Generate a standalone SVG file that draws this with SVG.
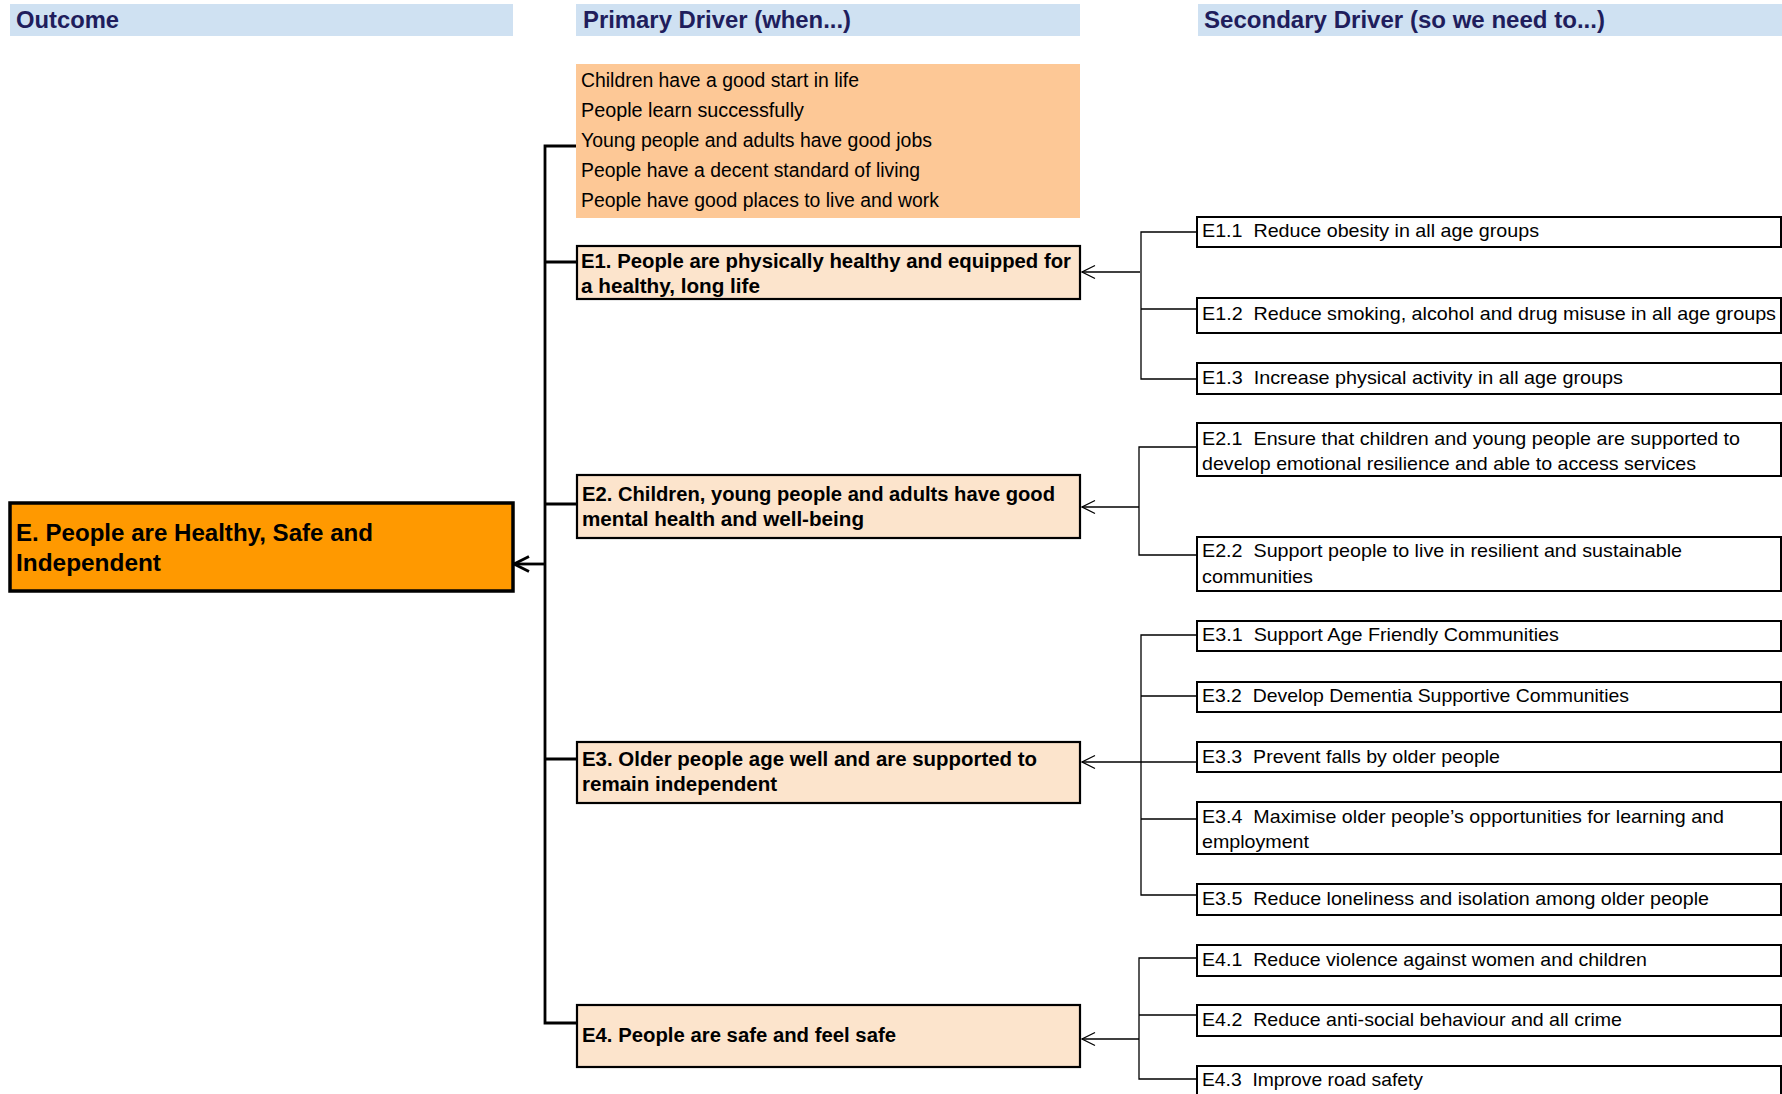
<svg xmlns="http://www.w3.org/2000/svg" width="1782" height="1094" viewBox="0 0 1782 1094">
<style>
text{font-family:"Liberation Sans",Arial,sans-serif;fill:#000}
.hdr{fill:#CFE1F2}
.htx{font-size:24px;font-weight:bold;fill:#201D5C}
.lst{font-size:20px}
.pb{fill:#FCE4CC;stroke:#000;stroke-width:2.2}
.pt{font-size:20px;font-weight:bold}
.sb{fill:#fff;stroke:#000;stroke-width:2}
.st{font-size:19px}
.thick{fill:none;stroke:#000;stroke-width:2.8}
.thin{fill:none;stroke:#000;stroke-width:1.3}
</style>
<defs>
<marker id="a1" markerUnits="userSpaceOnUse" markerWidth="30" markerHeight="30" viewBox="-20 -15 30 30" refX="0" refY="0" orient="auto" overflow="visible"><path d="M-13,-6.5 L0,0 L-13,6.5" fill="none" stroke="#000" stroke-width="1.3"/></marker>
<marker id="a2" markerUnits="userSpaceOnUse" markerWidth="30" markerHeight="30" viewBox="-20 -15 30 30" refX="0" refY="0" orient="auto" overflow="visible"><path d="M-15,-7.5 L0,0 L-15,7.5" fill="none" stroke="#000" stroke-width="2.8"/></marker>
</defs>
<rect width="1782" height="1094" fill="#fff"/>
<g id="headers">
<rect class="hdr" x="10" y="4" width="503" height="32"/>
<text class="htx" x="16" y="28" textLength="103" lengthAdjust="spacingAndGlyphs">Outcome</text>
<rect class="hdr" x="576" y="4" width="504" height="32"/>
<text class="htx" x="583" y="28" textLength="268" lengthAdjust="spacingAndGlyphs">Primary Driver (when...)</text>
<rect class="hdr" x="1198" y="4" width="584" height="32"/>
<text class="htx" x="1204" y="28" textLength="401" lengthAdjust="spacingAndGlyphs">Secondary Driver (so we need to...)</text>
</g>
<g id="connectors">
<path class="thick" d="M576,146 H545 V1023 H577"/>
<path class="thick" d="M545,262 H577 M545,504 H577 M545,759 H577"/>
<path class="thick" d="M545,564 H514" marker-end="url(#a2)"/>
<path class="thin" d="M1140,272 H1082" marker-end="url(#a1)"/>
<path class="thin" d="M1197,232 H1141 V379 H1197 M1141,309 H1197"/>
<path class="thin" d="M1139,507 H1082" marker-end="url(#a1)"/>
<path class="thin" d="M1197,447 H1139 V555 H1197"/>
<path class="thin" d="M1197,762 H1082" marker-end="url(#a1)"/>
<path class="thin" d="M1197,635 H1141 V895 H1197 M1141,696 H1197 M1141,819 H1197"/>
<path class="thin" d="M1139,1039 H1082" marker-end="url(#a1)"/>
<path class="thin" d="M1197,958 H1139 V1079 H1197 M1139,1015 H1197"/>
</g>
<g id="outcome-E">
<rect x="10" y="503" width="503" height="88" fill="#FF9900" stroke="#000" stroke-width="3.5"/>
<text x="16" y="541" font-size="24" font-weight="bold" textLength="357" lengthAdjust="spacingAndGlyphs">E. People are Healthy, Safe and</text>
<text x="16" y="571" font-size="24" font-weight="bold" textLength="145" lengthAdjust="spacingAndGlyphs">Independent</text>
</g>
<g id="primary-list">
<rect x="576" y="64" width="504" height="154" fill="#FDC896"/>
<text class="lst" x="581" y="87" textLength="278" lengthAdjust="spacingAndGlyphs">Children have a good start in life</text>
<text class="lst" x="581" y="117" textLength="223" lengthAdjust="spacingAndGlyphs">People learn successfully</text>
<text class="lst" x="581" y="147" textLength="351" lengthAdjust="spacingAndGlyphs">Young people and adults have good jobs</text>
<text class="lst" x="581" y="177" textLength="339" lengthAdjust="spacingAndGlyphs">People have a decent standard of living</text>
<text class="lst" x="581" y="207" textLength="358" lengthAdjust="spacingAndGlyphs">People have good places to live and work</text>
</g>
<g id="E1">
<rect class="pb" x="577" y="246" width="503" height="53"/>
<text class="pt" x="581" y="268" textLength="490" lengthAdjust="spacingAndGlyphs">E1. People are physically healthy and equipped for</text>
<text class="pt" x="581" y="293" textLength="179" lengthAdjust="spacingAndGlyphs">a healthy, long life</text>
</g>
<g id="E2">
<rect class="pb" x="577" y="475" width="503" height="63"/>
<text class="pt" x="582" y="501" textLength="473" lengthAdjust="spacingAndGlyphs">E2. Children, young people and adults have good</text>
<text class="pt" x="582" y="526" textLength="282" lengthAdjust="spacingAndGlyphs">mental health and well-being</text>
</g>
<g id="E3">
<rect class="pb" x="577" y="742" width="503" height="61"/>
<text class="pt" x="582" y="766" textLength="455" lengthAdjust="spacingAndGlyphs">E3. Older people age well and are supported to</text>
<text class="pt" x="582" y="791" textLength="195" lengthAdjust="spacingAndGlyphs">remain independent</text>
</g>
<g id="E4">
<rect class="pb" x="577" y="1005" width="503" height="62"/>
<text class="pt" x="582" y="1042" textLength="314" lengthAdjust="spacingAndGlyphs">E4. People are safe and feel safe</text>
</g>
<g id="E1.1"><rect class="sb" x="1197" y="217" width="584" height="30"/><text class="st" x="1202" y="237" textLength="337" lengthAdjust="spacingAndGlyphs">E1.1&#160; Reduce obesity in all age groups</text></g>
<g id="E1.2"><rect class="sb" x="1197" y="298" width="584" height="35"/><text class="st" x="1202" y="320" textLength="574" lengthAdjust="spacingAndGlyphs">E1.2&#160; Reduce smoking, alcohol and drug misuse in all age groups</text></g>
<g id="E1.3"><rect class="sb" x="1197" y="363" width="584" height="31"/><text class="st" x="1202" y="384" textLength="421" lengthAdjust="spacingAndGlyphs">E1.3&#160; Increase physical activity in all age groups</text></g>
<g id="E2.1"><rect class="sb" x="1197" y="423" width="584" height="53"/><text class="st" x="1202" y="445" textLength="538" lengthAdjust="spacingAndGlyphs">E2.1&#160; Ensure that children and young people are supported to</text><text class="st" x="1202" y="470" textLength="494" lengthAdjust="spacingAndGlyphs">develop emotional resilience and able to access services</text></g>
<g id="E2.2"><rect class="sb" x="1197" y="537" width="584" height="54"/><text class="st" x="1202" y="557" textLength="480" lengthAdjust="spacingAndGlyphs">E2.2&#160; Support people to live in resilient and sustainable</text><text class="st" x="1202" y="583" textLength="111" lengthAdjust="spacingAndGlyphs">communities</text></g>
<g id="E3.1"><rect class="sb" x="1197" y="621" width="584" height="30"/><text class="st" x="1202" y="641" textLength="357" lengthAdjust="spacingAndGlyphs">E3.1&#160; Support Age Friendly Communities</text></g>
<g id="E3.2"><rect class="sb" x="1197" y="682" width="584" height="30"/><text class="st" x="1202" y="702" textLength="427" lengthAdjust="spacingAndGlyphs">E3.2&#160; Develop Dementia Supportive Communities</text></g>
<g id="E3.3"><rect class="sb" x="1197" y="742" width="584" height="30"/><text class="st" x="1202" y="763" textLength="298" lengthAdjust="spacingAndGlyphs">E3.3&#160; Prevent falls by older people</text></g>
<g id="E3.4"><rect class="sb" x="1197" y="802" width="584" height="52"/><text class="st" x="1202" y="823" textLength="522" lengthAdjust="spacingAndGlyphs">E3.4&#160; Maximise older people’s opportunities for learning and</text><text class="st" x="1202" y="848" textLength="107" lengthAdjust="spacingAndGlyphs">employment</text></g>
<g id="E3.5"><rect class="sb" x="1197" y="884" width="584" height="31"/><text class="st" x="1202" y="905" textLength="507" lengthAdjust="spacingAndGlyphs">E3.5&#160; Reduce loneliness and isolation among older people</text></g>
<g id="E4.1"><rect class="sb" x="1197" y="945" width="584" height="31"/><text class="st" x="1202" y="966" textLength="445" lengthAdjust="spacingAndGlyphs">E4.1&#160; Reduce violence against women and children</text></g>
<g id="E4.2"><rect class="sb" x="1197" y="1005" width="584" height="31"/><text class="st" x="1202" y="1026" textLength="420" lengthAdjust="spacingAndGlyphs">E4.2&#160; Reduce anti-social behaviour and all crime</text></g>
<g id="E4.3"><rect class="sb" x="1197" y="1066" width="584" height="40"/><text class="st" x="1202" y="1086" textLength="221" lengthAdjust="spacingAndGlyphs">E4.3&#160; Improve road safety</text></g>
</svg>
